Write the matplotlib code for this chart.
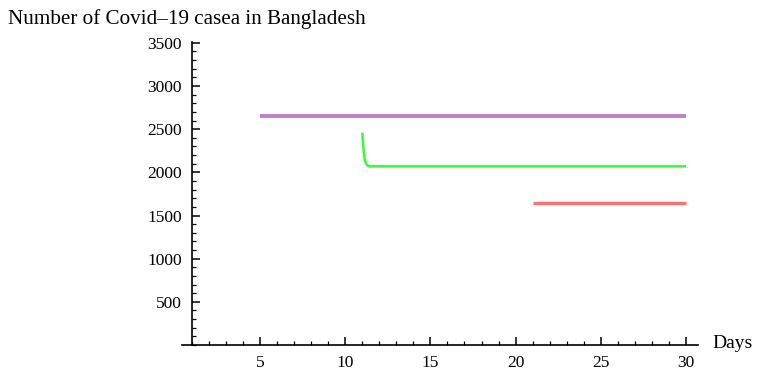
import matplotlib.pyplot as plt
from matplotlib.ticker import MultipleLocator

plt.rcParams['font.family'] = ['Liberation Serif', 'DejaVu Serif']

# case counts per day for the three model runs
purple_days = [5, 30]
purple_cases = [2650, 2650]

green_days = [11.0, 11.03, 11.07, 11.12, 11.18, 11.25, 11.35, 11.5, 30]
green_cases = [2460, 2380, 2280, 2180, 2120, 2090, 2075, 2070, 2070]

red_days = [21, 30]
red_cases = [1650, 1650]

fig = plt.figure(figsize=(7.58, 3.74), dpi=100)
W, H = 758, 374
# pixel frame of the plotting area: x from 0.4 to 30.7, y from 0 to 3510
x0, x1 = 0.4, 30.7
left = 174.8 + 17.04 * x0
right = 174.8 + 17.04 * x1
bottom, top = 374 - 345, 374 - 42
ax = fig.add_axes([left / W, bottom / H, (right - left) / W, (top - bottom) / H])

ax.plot(purple_days, purple_cases, color='#c080cc', lw=2.8, solid_capstyle='butt')
ax.plot(green_days, green_cases, color='#33ff33', lw=1.8, solid_capstyle='butt')
ax.plot(red_days, red_cases, color='#ff7070', lw=2.4, solid_capstyle='butt')

ax.set_xlim(x0, x1)
ax.set_ylim(0, 3510)

for s in ('top', 'right'):
    ax.spines[s].set_visible(False)
ax.spines['left'].set_position(('data', 1))
ax.spines['bottom'].set_position(('data', 0))
ax.spines['left'].set_linewidth(1.2)
ax.spines['bottom'].set_linewidth(1.2)

ax.xaxis.set_major_locator(MultipleLocator(5))
ax.xaxis.set_minor_locator(MultipleLocator(1))
ax.yaxis.set_minor_locator(MultipleLocator(100))
ax.set_yticks([500, 1000, 1500, 2000, 2500, 3000, 3500])
ax.set_xticks([5, 10, 15, 20, 25, 30])

ax.tick_params(which='major', direction='in', length=5.5, width=1.1, labelsize=12.5)
ax.tick_params(which='minor', direction='in', length=3.2, width=0.9)
ax.tick_params(axis='y', which='major', pad=7)
ax.tick_params(axis='x', which='major', pad=7)

fig.text(8 / W, 1 - 19 / H, 'Number of Covid\u201319 casea in Bangladesh', fontsize=15.2,
         ha='left', va='center')
fig.text(712 / W, 1 - 343 / H, 'Days', fontsize=14, ha='left', va='center')

fig.savefig('out.png', dpi=100)
